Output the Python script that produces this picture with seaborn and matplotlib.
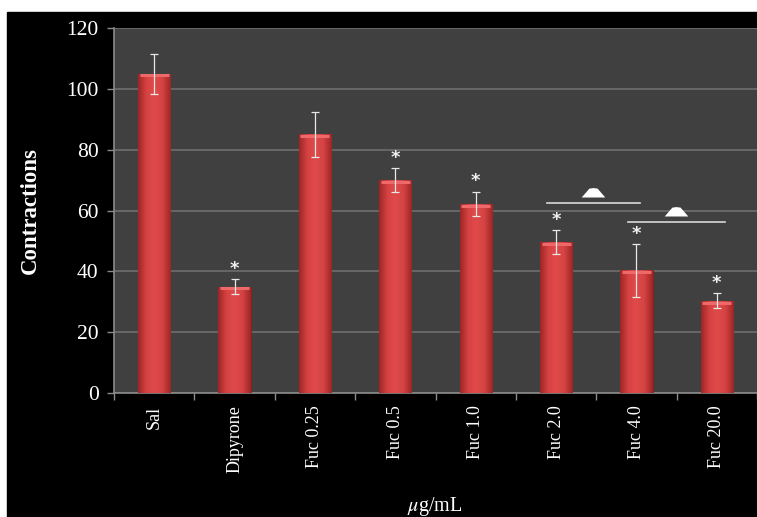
import numpy as np
import pandas as pd
import seaborn as sns
import matplotlib.pyplot as plt
from matplotlib.patches import Rectangle
from matplotlib.colors import LinearSegmentedColormap

plt.rcParams['mathtext.fontset'] = 'stix'

groups = ['Sal', 'Dipyrone', 'Fuc 0.25', 'Fuc 0.5', 'Fuc 1.0', 'Fuc 2.0', 'Fuc 4.0', 'Fuc 20.0']
means = [105, 35, 85, 70, 62.2, 49.6, 40.3, 30.3]
errs = [6.6, 2.5, 7.5, 4.0, 4.0, 3.9, 8.6, 2.5]
signif = [False, True, False, True, True, True, True, True]

# triangle brackets: (start, end, line height, triangle height)
brackets = [(4.89, 6.04, 62.5, 64.6), (5.89, 7.1, 56.2, 58.3)]

data = pd.DataFrame({'group': groups, 'mean': means})

W, H = 757, 517
fig = plt.figure(figsize=(W / 100, H / 100), dpi=100, facecolor='white')
fig.patches.append(Rectangle((7 / W, 0), 1, 1 - 12 / H, transform=fig.transFigure,
                             color='black', zorder=-10))

ax = fig.add_axes([114 / W, (H - 393) / H, (W - 114) / W, 365 / H])
ax.set_facecolor('#404040')

sns.barplot(x='group', y='mean', data=data, color='#c83434', width=0.4,
            saturation=1, edgecolor='#8a1c1c', linewidth=0.6, ax=ax, zorder=3)

# shaded look on the bars
cmap = LinearSegmentedColormap.from_list('bar', ['#9e2626', '#d64242', '#e04a4a', '#d44242', '#9e2626'])
grad = np.linspace(0, 1, 64).reshape(1, -1)
for p in list(ax.patches):
    x0, w, h = p.get_x(), p.get_width(), p.get_height()
    im = ax.imshow(grad, cmap=cmap, aspect='auto', extent=[x0, x0 + w, 0, h], zorder=3.5)
    im.set_clip_path(p)
    ax.plot([x0 + 0.02, x0 + w - 0.02], [h - 0.6, h - 0.6], color='#ee6a6a', lw=2.2, zorder=3.6,
            solid_capstyle='butt')

ax.errorbar(range(len(groups)), means, yerr=errs, fmt='none', ecolor='#e8e8e8',
            elinewidth=0.9, capsize=3, capthick=0.9, zorder=4)

for i, (m, e, s) in enumerate(zip(means, errs, signif)):
    if s:
        ax.text(i, m + e + 0.4, '*', color='#f0f0f0', ha='center', va='bottom',
                fontsize=13, fontweight='bold', family='DejaVu Sans', zorder=5)

tri = [(-1, 0), (1, 0), (0.35, 0.75), (0, 0.8), (-0.35, 0.75), (-1, 0)]
for x0, x1, yl, yt in brackets:
    ax.plot([x0, x1], [yl, yl], color='#d8d8d8', lw=1.2, zorder=5)
    ax.plot((x0 + x1) / 2, yt, marker=tri, color='white', markersize=17, zorder=5,
            markeredgewidth=0)

ax.set_ylim(0, 120)
ax.set_xlim(-0.5, 7.46)
ax.set_yticks(range(0, 121, 20))
ax.yaxis.grid(True, color='#6e6e6e', lw=1.2)
ax.set_axisbelow(True)

for side in ['top', 'right']:
    ax.spines[side].set_visible(False)
for side in ['left', 'bottom']:
    ax.spines[side].set_color('#8a8a8a')
    ax.spines[side].set_linewidth(1.2)

ax.set_xticks(np.arange(len(groups)))
ax.set_xticklabels(groups, rotation=90, fontsize=13, family='Liberation Serif', color='white')
ax.set_xticks(np.arange(len(groups) + 1) - 0.5, minor=True)
ax.tick_params(axis='x', which='major', length=0, pad=9)
ax.tick_params(axis='x', which='minor', length=5, color='#8a8a8a', width=1)
ax.tick_params(axis='y', length=5, color='#8a8a8a', width=1, labelsize=15.5,
               labelcolor='white', pad=6)
for lab in ax.get_yticklabels():
    lab.set_family('Liberation Serif')

ax.set_xlabel(r'$\mu$g/mL', fontsize=14.5, family='Liberation Serif', color='white')
ax.xaxis.set_label_coords((435 - 114) / (W - 114), (393 - 507) / 365)
ax.xaxis.label.set_va('center')
ax.set_ylabel('Contractions', fontsize=16.5, fontweight='bold', family='Liberation Serif',
              color='white', labelpad=18)

fig.savefig('out.png', dpi=100, facecolor=fig.get_facecolor())
